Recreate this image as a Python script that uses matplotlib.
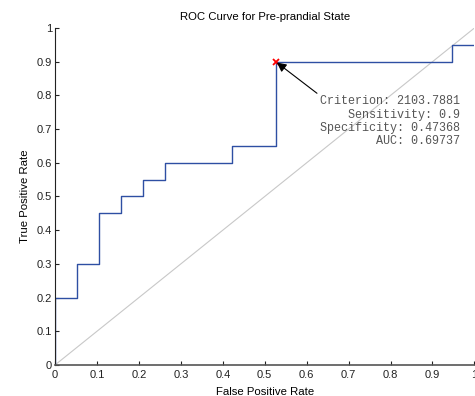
import matplotlib.pyplot as plt
import numpy as np

plt.rcParams['font.family'] = ['Liberation Sans', 'DejaVu Sans']

# ROC data (FPR steps of 1/19, TPR steps of 0.05)
fpr = [0, 0, 1/19, 1/19, 2/19, 2/19, 3/19, 3/19, 4/19, 4/19, 5/19, 5/19,
       8/19, 8/19, 10/19, 10/19, 18/19, 18/19, 1]
tpr = [0, 0.2, 0.2, 0.3, 0.3, 0.45, 0.45, 0.5, 0.5, 0.55, 0.55, 0.6,
       0.6, 0.65, 0.65, 0.9, 0.9, 0.95, 0.95]
opt_fpr = 10/19
opt_tpr = 0.9
criterion = 2103.7881
sensitivity = 0.9
specificity = 0.47368
auc = 0.69737

fig = plt.figure(figsize=(4.75, 3.96), dpi=100)
ax = fig.add_axes([0.1158, 0.0783, 0.883, 0.851])

ax.plot([0, 1], [0, 1], color='#c8c8c8', lw=0.8)
ax.plot(fpr, tpr, color='#2e4fa3', lw=1.0)
ax.plot(opt_fpr, opt_tpr, 'x', color='red', ms=5, mew=1.3)

txt = ('Criterion: %.4f\nSensitivity: %g\nSpecificity: %.5f\nAUC: %.5f'
       % (criterion, sensitivity, specificity, auc))
ax.annotate(txt, xy=(opt_fpr, opt_tpr), xytext=(0.965, 0.8),
            ha='right', va='top', family='Liberation Mono', fontsize=8.5,
            color='#555555', linespacing=1.15,
            arrowprops=dict(arrowstyle='-|>', color='black', lw=0.8,
                            mutation_scale=14, shrinkA=0, shrinkB=1,
                            relpos=(0.0, 1.0)))

ax.set_xlim(0, 1)
ax.set_ylim(0, 1)
ax.set_xticks(np.arange(0, 1.01, 0.1))
ax.set_yticks(np.arange(0, 1.01, 0.1))
ax.set_xticklabels(['0', '0.1', '0.2', '0.3', '0.4', '0.5', '0.6', '0.7', '0.8', '0.9', '1'])
ax.set_yticklabels(['0', '0.1', '0.2', '0.3', '0.4', '0.5', '0.6', '0.7', '0.8', '0.9', '1'])
ax.tick_params(direction='in', length=3, width=0.8, labelsize=8, colors='#222222', pad=2)
ax.tick_params(axis='x', pad=3.5)
ax.spines['top'].set_visible(False)
ax.spines['right'].set_visible(False)
ax.spines['left'].set_color('#222222')
ax.spines['bottom'].set_color('#555555')
ax.spines['bottom'].set_linewidth(1.2)

ax.set_title('ROC Curve for Pre-prandial State', fontsize=8.2, pad=6)
ax.set_xlabel('False Positive Rate', fontsize=8.2, labelpad=5)
ax.set_ylabel('True Positive Rate', fontsize=8.2, labelpad=5)

fig.savefig('out.png', dpi=100)
